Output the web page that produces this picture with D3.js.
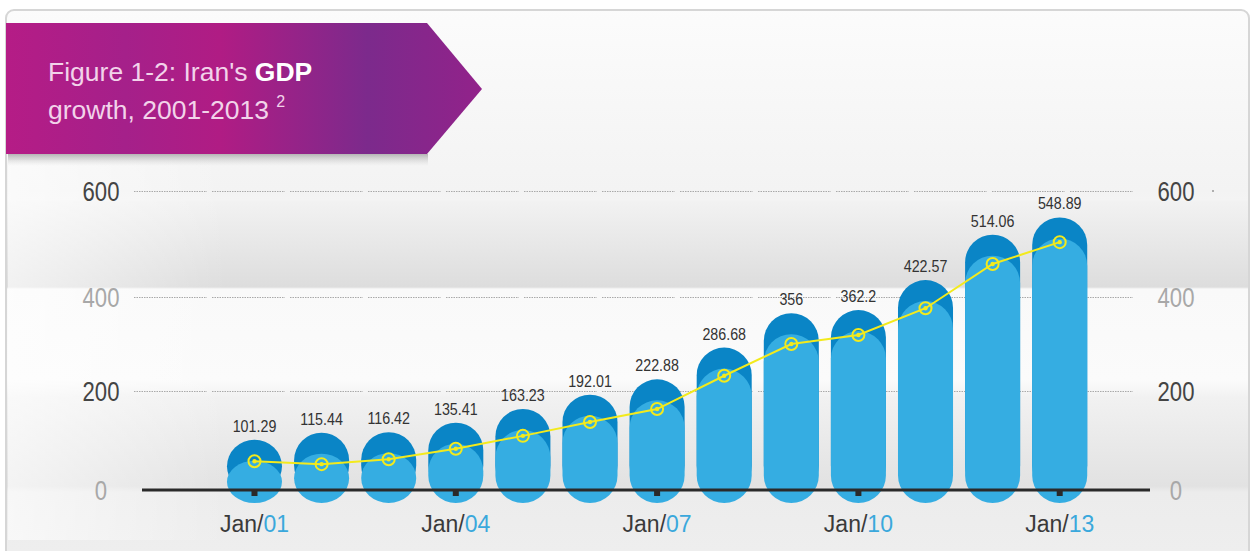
<!DOCTYPE html>
<html>
<head>
  <meta charset="utf-8">
  <script src="https://d3js.org/d3.v7.min.js"></script>
  <style>
    body { margin: 0; background: #fff; }
    svg { display: block; }
  </style>
</head>
<body>
<script>
  // data
  var years = ["2001","2002","2003","2004","2005","2006","2007","2008","2009","2010","2011","2012","2013"];
  var gdp = [101.29,115.44,116.42,135.41,163.23,192.01,222.88,286.68,356,362.2,422.57,514.06,548.89];
  var trend = [58,52,62,83,109,137,163,230,294,312,366,455,499];
  var yTicks = [0,200,400,600];
  var xTickYears = ["2001","2004","2007","2010","2013"];

  var width = 1250, height = 551;
  var base = 490;
  var sans = "'Liberation Sans', Arial, sans-serif";

  var svg = d3.select("body").append("svg")
    .attr("width", width)
    .attr("height", height);

  var defs = svg.append("defs");

  // panel background, vertical bands
  var bgStops = [
    [0, "#fcfcfc"], [190, "#f3f3f3"], [200, "#f4f4f4"], [201, "#f2f2f2"],
    [287, "#dddddd"], [289, "#f9f9f9"], [380, "#fbfbfb"], [398, "#f1f1f1"],
    [486, "#e2e2e2"], [492, "#ececec"], [551, "#eeeeee"]
  ];
  var bg = defs.append("linearGradient").attr("id", "bg")
    .attr("gradientUnits", "userSpaceOnUse")
    .attr("x1", 0).attr("y1", 0).attr("x2", 0).attr("y2", height);
  bg.selectAll("stop").data(bgStops).enter().append("stop")
    .attr("offset", function(d) { return d[0] / height; })
    .attr("stop-color", function(d) { return d[1]; });

  var leftFade = defs.append("linearGradient").attr("id", "leftFade")
    .attr("x1", 0).attr("x2", 1).attr("y1", 0).attr("y2", 0);
  leftFade.append("stop").attr("offset", 0).attr("stop-color", "#fff").attr("stop-opacity", 0.6);
  leftFade.append("stop").attr("offset", 1).attr("stop-color", "#fff").attr("stop-opacity", 0);

  var banner = defs.append("linearGradient").attr("id", "banner")
    .attr("x1", 0).attr("x2", 1).attr("y1", 0).attr("y2", 0);
  [[0, "#b51c86"], [0.25, "#a5208a"], [0.45, "#b01c84"], [0.76, "#7c2a8c"], [1, "#92228a"]]
    .forEach(function(s) { banner.append("stop").attr("offset", s[0]).attr("stop-color", s[1]); });

  var shadow = defs.append("linearGradient").attr("id", "shadow")
    .attr("x1", 0).attr("x2", 0).attr("y1", 0).attr("y2", 1);
  shadow.append("stop").attr("offset", 0).attr("stop-color", "#999").attr("stop-opacity", 0.7);
  shadow.append("stop").attr("offset", 1).attr("stop-color", "#ccc").attr("stop-opacity", 0);

  // panel
  svg.append("rect")
    .attr("x", 6).attr("y", 10).attr("width", 1243).attr("height", 560)
    .attr("rx", 8)
    .attr("fill", "url(#bg)")
    .attr("stroke", "#d6d6d6").attr("stroke-width", 2);
  svg.append("rect")
    .attr("x", 8).attr("y", 160).attr("width", 220).attr("height", 380)
    .attr("fill", "url(#leftFade)");

  // title banner
  svg.append("rect")
    .attr("x", 8).attr("y", 154).attr("width", 420).attr("height", 12)
    .attr("fill", "url(#shadow)");
  svg.append("path")
    .attr("d", "M6,23 L427,23 L482,89 L427,154 L6,154 Z")
    .attr("fill", "url(#banner)");

  var t1 = svg.append("text")
    .attr("x", 48).attr("y", 81)
    .style("font-family", sans)
    .style("font-size", "26.5px")
    .attr("fill", "#f2d3ea");
  t1.append("tspan").text("Figure 1-2: Iran's ");
  t1.append("tspan").attr("font-weight", "bold").attr("fill", "#ffffff").text("GDP");

  var t2 = svg.append("text")
    .attr("x", 48).attr("y", 119)
    .style("font-family", sans)
    .style("font-size", "26.5px")
    .attr("fill", "#f2d3ea");
  t2.append("tspan").text("growth, 2001-2013 ");
  t2.append("tspan").attr("dy", -12).style("font-size", "16px").text("2");

  // scales
  var x = d3.scaleBand().domain(years).range([214.9, 1099.3]).padding(0.18);
  var y = d3.scaleLinear().domain([0, 600]).range([base, 192]);
  // axis labels/gridlines in the original sit slightly off the bar scale
  var yAxisScale = d3.scaleLinear().domain([0, 200, 400, 600]).range([base, 391, 297, 191]);
  var bw = x.bandwidth();

  // dotted gridlines, broken into short runs
  var segStarts = d3.range(134, 1133, 78);
  yTicks.filter(function(d) { return d > 0; }).forEach(function(t) {
    svg.selectAll(null).data(segStarts).enter().append("line")
      .attr("x1", function(d) { return d; })
      .attr("x2", function(d) { return Math.min(d + 73, 1133); })
      .attr("y1", yAxisScale(t) + 0.5)
      .attr("y2", yAxisScale(t) + 0.5)
      .attr("stroke", "#a9a9a9")
      .attr("stroke-width", 1)
      .attr("stroke-dasharray", "1.5 1");
  });

  // tick labels both sides (condensed by a horizontal squeeze)
  [101, 1176].forEach(function(xpos) {
    svg.selectAll(null).data(yTicks).enter().append("text")
      .attr("transform", function(d) { return "translate(" + xpos + "," + (yAxisScale(d) + 10) + ") scale(0.82,1)"; })
      .attr("text-anchor", "middle")
      .style("font-family", sans)
      .style("font-size", "27px")
      .attr("fill", function(d) { return (d / 200) % 2 === 1 ? "#444" : "#a8a8a8"; })
      .text(function(d) { return d; });
  });
  svg.append("circle").attr("cx", 1213).attr("cy", 191).attr("r", 1).attr("fill", "#999");

  // bars: dark cap pill + lighter body pill
  var bars = svg.append("g");
  bars.selectAll(".cap").data(gdp).enter().append("rect")
    .attr("class", "cap")
    .attr("x", function(d, i) { return x(years[i]); })
    .attr("y", function(d) { return y(d); })
    .attr("width", bw)
    .attr("height", function(d) { return base + 3 - y(d); })
    .attr("rx", bw / 2)
    .attr("fill", "#0a85c6");
  bars.selectAll(".body").data(gdp).enter().append("rect")
    .attr("class", "body")
    .attr("x", function(d, i) { return x(years[i]); })
    .attr("y", function(d) { return y(d) + 21; })
    .attr("width", bw)
    .attr("height", function(d) { return base + 13 - y(d) - 21; })
    .attr("rx", bw / 2)
    .attr("fill", "#35ade2");

  // value labels
  svg.selectAll(".val").data(gdp).enter().append("text")
    .attr("class", "val")
    .attr("transform", function(d, i) { return "translate(" + (x(years[i]) + bw / 2) + "," + (y(d) - 8) + ") scale(0.84,1)"; })
    .attr("text-anchor", "middle")
    .style("font-family", sans)
    .style("font-size", "17px")
    .attr("fill", "#333")
    .text(function(d) { return String(d); });

  // baseline and ticks
  svg.append("line")
    .attr("x1", 142).attr("x2", 1150)
    .attr("y1", base).attr("y2", base)
    .attr("stroke", "#2a2a2a").attr("stroke-width", 3);
  svg.selectAll(".xt").data(xTickYears).enter().append("rect")
    .attr("class", "xt")
    .attr("x", function(d) { return x(d) + bw / 2 - 3; })
    .attr("y", base)
    .attr("width", 6).attr("height", 6)
    .attr("fill", "#2a2a2a");

  // x labels
  var xl = svg.selectAll(".xl").data(xTickYears).enter().append("text")
    .attr("class", "xl")
    .attr("x", function(d) { return x(d) + bw / 2; })
    .attr("y", 532)
    .attr("text-anchor", "middle")
    .style("font-family", sans)
    .style("font-size", "23px")
    .attr("fill", "#3a3a3a");
  xl.append("tspan").text("Jan/");
  xl.append("tspan").attr("fill", "#3aa8dc").text(function(d) { return d.slice(2); });

  // yellow trend line
  var line = d3.line()
    .x(function(d, i) { return x(years[i]) + bw / 2; })
    .y(function(d) { return y(d); });
  svg.append("path")
    .datum(trend)
    .attr("d", line)
    .attr("fill", "none")
    .attr("stroke", "#f3ea1c")
    .attr("stroke-width", 2);
  var mk = svg.selectAll(".mk").data(trend).enter().append("g")
    .attr("transform", function(d, i) { return "translate(" + (x(years[i]) + bw / 2) + "," + y(d) + ")"; });
  mk.append("circle").attr("r", 6).attr("fill", "none")
    .attr("stroke", "#f3ea1c").attr("stroke-width", 2);
  mk.append("circle").attr("r", 2.2).attr("fill", "#f3ea1c");
</script>
</body>
</html>
